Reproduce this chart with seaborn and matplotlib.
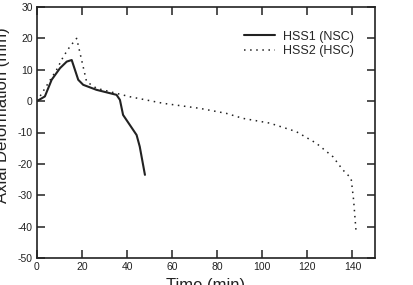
import matplotlib
matplotlib.use("Agg")
import matplotlib.pyplot as plt
import seaborn as sns
import pandas as pd

# HSS1 (NSC) - solid
t1 = [0, 3.5, 6.5, 10.2, 13.2, 15.4, 18.3, 20.5, 26.4, 35.3, 36.8, 38.2, 41.2, 44.2, 45.6, 47.9]
d1 = [0, 1.5, 6.8, 10.5, 12.6, 13.1, 6.8, 5.2, 3.6, 2.0, 0.4, -4.4, -7.6, -10.8, -14.5, -23.5]
# HSS2 (HSC) - dotted
t2 = [0, 8.7, 11.7, 14.6, 17.6, 19.8, 22.0, 26.4, 41.2, 56.0, 72.2, 84.0, 91.4, 103.2, 115.0, 123.9, 131.3, 135.7, 139.4, 140.5, 141.6]
d2 = [0, 10.0, 14.2, 17.4, 20.0, 13.1, 6.2, 4.1, 1.4, -0.7, -2.3, -3.9, -5.5, -7.0, -9.7, -13.4, -17.7, -21.9, -24.6, -31.5, -41.6]
labels = ["HSS1 (NSC)", "HSS2 (HSC)"]
xticks = [0, 20, 40, 60, 80, 100, 120, 140]
yticks = [-50, -40, -30, -20, -10, 0, 10, 20, 30]

sns.set_style("ticks")
plt.rcParams['font.family'] = ['Liberation Sans', 'DejaVu Sans']
plt.rcParams['axes.unicode_minus'] = False

df1 = pd.DataFrame({"t": t1, "d": d1})
df2 = pd.DataFrame({"t": t2, "d": d2})

fig = plt.figure(figsize=(4.14, 2.85), dpi=100)
ax = fig.add_axes([37/414, 1-258/285, (375-37)/414, (258-7)/285])

sns.lineplot(data=df1, x="t", y="d", ax=ax, color="#222222", lw=1.5, label=labels[0], sort=False)
sns.lineplot(data=df2, x="t", y="d", ax=ax, color="#222222", lw=1.1, ls=(0, (1, 3)), label=labels[1], sort=False)

ax.set_xlim(0, 150)
ax.set_ylim(-50, 30)
ax.set_xticks(xticks)
ax.set_yticks(yticks)
ax.set_xlabel("")
ax.set_ylabel("")
ax.tick_params(direction="in", length=6, width=1.1, labelsize=7.5, top=True, right=True, pad=3,
               colors="#222222")
for s in ax.spines.values():
    s.set_linewidth(1.2)
    s.set_color("#222222")

leg = ax.legend(loc="upper right", frameon=False, fontsize=9, handlelength=2.5,
                bbox_to_anchor=(0.97, 0.95), labelspacing=0.2, handletextpad=0.6)

fig.text(3/414, 1-115/285, "Axial Deformation (mm)", rotation=90, ha="center", va="center",
         fontsize=12, color="#222222")
fig.text(206/414, 1-278/285, "Time (min)", ha="center", va="top", fontsize=12, color="#222222")

fig.savefig("out.png", dpi=100)
